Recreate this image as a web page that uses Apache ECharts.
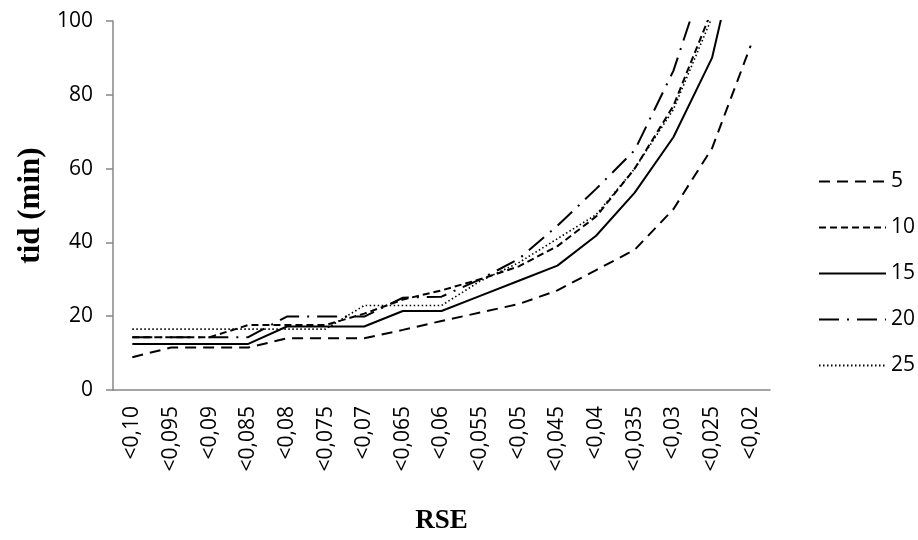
<!DOCTYPE html>
<html>
<head>
<meta charset="utf-8">
<title>RSE</title>
<script src="https://cdn.jsdelivr.net/npm/echarts@6/dist/echarts.min.js"></script>
<style>
	html, body { margin: 0; padding: 0; background: #fff; }
	#chart { width: 918px; height: 540px; }
</style>
</head>
<body>
<div id="chart"></div>
<script>
// x-axis categories
var categories = ['<0,10', '<0,095', '<0,09', '<0,085', '<0,08', '<0,075', '<0,07', '<0,065', '<0,06',
	'<0,055', '<0,05', '<0,045', '<0,04', '<0,035', '<0,03', '<0,025', '<0,02'];

// series names (legend)
var seriesNames = ['5', '10', '15', '20', '25'];

// values (tid in min)
var s5 = [8.9, 11.5, 11.5, 11.5, 14, 14, 14, 16.3, 18.7, 21, 23.3, 27, 32.5, 38, 49, 65.5, 93.3];
var s10 = [14.3, 14.3, 14.3, 17.6, 17.6, 17.6, 20.7, 24.5, 27, 30, 33.5, 39, 47, 60, 77, 103, 140];
var s15 = [12.5, 12.5, 12.5, 12.5, 17.2, 17.2, 17.2, 21.4, 21.4, 25.5, 29.6, 33.7, 41.8, 53.5, 68.5, 90, 135];
var s20 = [14.3, 14.3, 14.3, 14.3, 19.9, 19.9, 19.9, 25, 25.3, 30, 35.5, 44.5, 54.5, 65, 86.5, 118, 160];
var s25 = [16.5, 16.5, 16.5, 16.5, 16.5, 16.5, 22.9, 22.9, 22.9, 29.5, 34.5, 41, 47.5, 60, 76, 101, 140];

var values = [s5, s10, s15, s20, s25];

// line dash pattern for each series
var dashes = [[11, 7], [7, 4], 'solid', [20, 8, 2, 8], [1.5, 2.5]];
var widths = [2, 2, 2, 2, 1.6];

var labelFont = 'Open Sans';
var titleFont = 'Liberation Serif';
var axisGray = '#868686';

var myChart = echarts.init(document.getElementById('chart'), null, { renderer: 'canvas' });

var series = [];
for (var i = 0; i < seriesNames.length; ++i) {
	series.push({
		name: seriesNames[i],
		type: 'line',
		data: values[i],
		symbol: 'none',
		clip: true,
		color: '#000',
		itemStyle: { color: '#000' },
		lineStyle: {
			color: '#000',
			width: widths[i],
			type: dashes[i]
		}
	});
}

var option = {
	animation: false,
	backgroundColor: '#fff',
	color: ['#000'],
	grid: {
		left: 113,
		right: 148,
		top: 21,
		bottom: 148
	},
	legend: {
		orient: 'vertical',
		left: 813,
		top: 166,
		itemWidth: 67,
		itemHeight: 21,
		itemGap: 25,
		data: seriesNames,
		itemStyle: { opacity: 0 },
		textStyle: {
			fontFamily: labelFont,
			fontSize: 21,
			color: '#000'
		}
	},
	xAxis: {
		type: 'category',
		data: categories,
		boundaryGap: true,
		name: 'RSE',
		nameLocation: 'middle',
		nameGap: 118,
		nameTextStyle: {
			fontFamily: titleFont,
			fontWeight: 'bold',
			fontSize: 27,
			color: '#000'
		},
		axisLine: { lineStyle: { color: axisGray, width: 1.5 } },
		axisTick: { show: false },
		axisLabel: {
			rotate: 90,
			interval: 0,
			margin: 16,
			fontFamily: labelFont,
			fontSize: 21,
			color: '#000'
		}
	},
	yAxis: {
		type: 'value',
		min: 0,
		max: 100,
		interval: 20,
		name: 'tid (min)',
		nameLocation: 'middle',
		nameGap: 60,
		nameTextStyle: {
			fontFamily: titleFont,
			fontWeight: 'bold',
			fontSize: 31,
			color: '#000'
		},
		axisLine: { show: true, lineStyle: { color: axisGray, width: 1.5 } },
		axisTick: { show: true, length: 7, lineStyle: { color: axisGray, width: 1.5 } },
		splitLine: { show: false },
		axisLabel: {
			margin: 20,
			fontFamily: labelFont,
			fontSize: 21,
			color: '#000'
		}
	},
	series: series
};

myChart.setOption(option);
</script>
</body>
</html>
